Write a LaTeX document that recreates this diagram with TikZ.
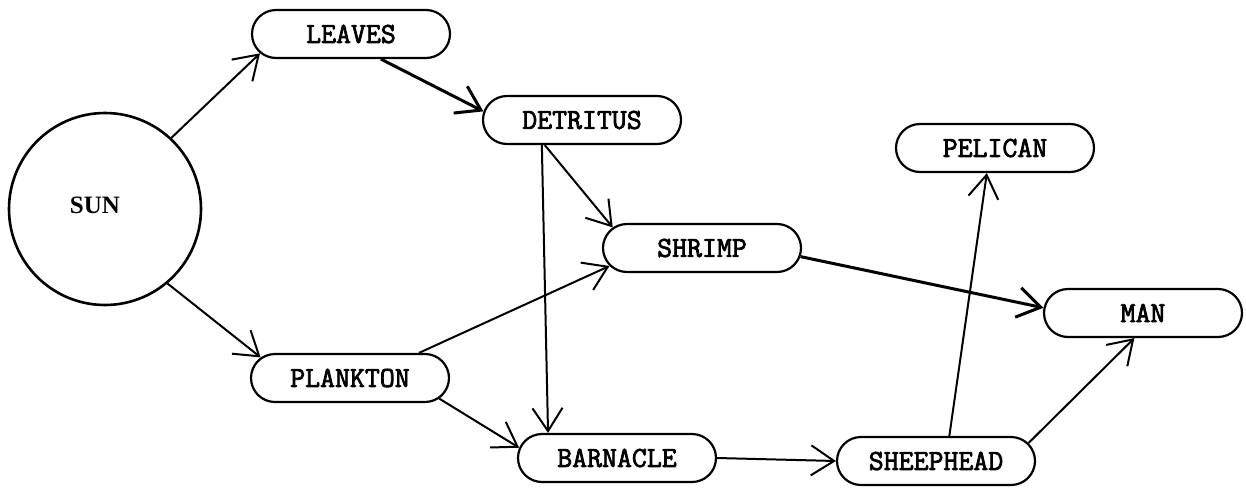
\documentclass[tikz,border=0pt]{standalone}
\usepackage{fontspec}
\setmainfont{Liberation Serif}
\setmonofont{Latin Modern Mono}[BoldFont=Latin Modern Mono, BoldFeatures={FakeBold=2.6}]
\usetikzlibrary{shapes.misc, arrows.meta}
\tikzset{
  foodBox/.style={draw, rounded rectangle, line width=2.2pt, minimum width=198pt, minimum height=48pt, inner sep=0pt, font=\ttfamily\bfseries\fontsize{29}{29}\selectfont},
  eats/.style={-{Straight Barb[length=23pt, width=30pt]}, line width=2pt},
}
\begin{document}
\begin{tikzpicture}[x=1pt, y=-1pt]
\useasboundingbox (0,0) rectangle (1246,490);
\node[draw, circle, minimum size=192pt, line width=2.6pt] (sun) at (105,209) {};
\node[font=\bfseries\fontsize{25}{25}\selectfont] (sunLabel) at (95,205) {SUN};
\node[foodBox] (leaves) at (351,34) {LEAVES};
\node[foodBox] (detritus) at (582,120) {DETRITUS};
\node[foodBox] (pelican) at (995,148) {PELICAN};
\node[foodBox] (shrimp) at (702,248) {SHRIMP};
\node[foodBox] (man) at (1143,313) {MAN};
\node[foodBox] (plankton) at (350,378) {PLANKTON};
\node[foodBox] (barnacle) at (617,458) {BARNACLE};
\node[foodBox] (sheephead) at (936,461) {SHEEPHEAD};
\draw[eats] (sun.47) -- (leaves.192);
\draw[eats] (sun.310) -- (plankton.167);
\draw[eats, line width=3pt] (leaves.320) -- (detritus.175);
\draw[eats] (detritus.212) -- (barnacle.160);
\draw[eats] (detritus.214) -- (shrimp.167);
\draw[eats] (plankton.20) -- (shrimp.191);
\draw[eats] (plankton.347) -- (barnacle.174);
\draw[eats, line width=3pt] (shrimp.355) -- (man.177);
\draw[eats] (barnacle.east) -- (sheephead.west);
\draw[eats] (sheephead.62) -- (pelican.252);
\draw[eats] (sheephead.11) -- (man.251);
\end{tikzpicture}
\end{document}
